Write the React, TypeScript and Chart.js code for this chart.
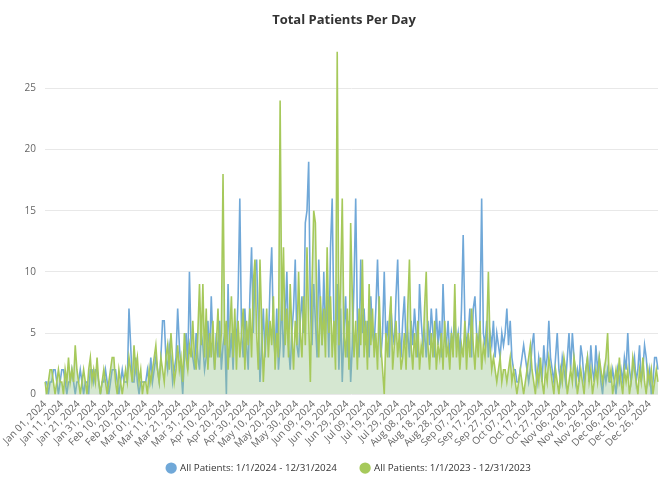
import { useEffect, useRef } from 'react';
import { Chart, registerables } from 'chart.js';

Chart.register(...registerables);

const MONTH_NAMES = ['Jan', 'Feb', 'Mar', 'Apr', 'May', 'Jun', 'Jul', 'Aug', 'Sep', 'Oct', 'Nov', 'Dec'];
const DAY_COUNT = 366;
const categories: string[] = [];
for (let i = 0; i < DAY_COUNT; i++) {
  const d = new Date(2024, 0, 1 + i);
  categories.push(`${MONTH_NAMES[d.getMonth()]} ${String(d.getDate()).padStart(2, '0')}, ${d.getFullYear()}`);
}

const yTickValues = [0, 5, 10, 15, 20, 25];
const yMax = 28;
const labelEvery = 10;

// All Patients: 1/1/2024 - 12/31/2024 (blue), by month
const p2024Jan = [1,1,0,1,1,2,2,1,0,1,2,2,1,0,1,1,2,1,0,1,1,2,1,0,1,1,0,2,2,1,2];
const p2024Feb = [2,1,0,1,1,2,1,0,1,2,2,2,1,0,1,2,1,1,1,7,4,1,1,3,1,0,1,1,1];
const p2024Mar = [1,2,1,3,1,2,3,2,1,3,6,6,3,2,4,3,1,2,3,7,4,2,0,3,5,2,10,4,3,2,5];
const p2024Apr = [3,2,5,4,2,3,6,3,8,4,2,5,3,6,2,4,5,0,9,3,5,2,6,4,8,16,5,3,7,4];
const p2024May = [2,8,12,5,10,11,6,1,4,7,3,6,4,9,12,5,3,7,2,4,8,3,6,10,4,2,5,7,11,4,3];
const p2024Jun = [6,8,5,14,15,19,7,4,9,6,3,11,7,4,10,5,8,3,12,16,6,4,9,2,7,1,5,8,3,6];
const p2024Jul = [1,4,9,16,6,3,11,5,7,4,6,3,8,5,4,7,11,6,3,5,10,4,6,3,7,5,4,8,11,5,3];
const p2024Aug = [6,8,4,5,3,6,4,7,5,3,9,6,4,5,3,6,4,7,5,3,7,4,6,3,9,5,4,6,3,5,4];
const p2024Sep = [6,4,5,3,7,13,6,4,5,7,3,7,8,5,4,6,16,5,4,6,3,5,4,6,3,5,4,3,5,4];
const p2024Oct = [5,7,4,6,3,2,2,1,1,2,3,4,3,2,1,2,4,5,2,1,3,2,1,4,2,3,6,3,2,1,3];
const p2024Nov = [5,2,1,3,2,1,3,5,2,5,3,1,2,1,4,3,1,2,3,1,4,2,1,4,2,3,1,0,2,1];
const p2024Dec = [2,1,1,2,1,0,2,1,2,1,3,2,5,2,1,2,3,1,2,4,1,2,4,3,1,2,0,1,3,3,2];

// All Patients: 1/1/2023 - 12/31/2023 (green), by month
const p2023Jan = [1,0,1,2,2,1,0,1,2,1,1,0,2,1,3,1,2,1,4,2,1,0,1,2,1,0,2,3,1,2,1];
const p2023Feb = [3,1,0,1,2,1,0,1,2,3,3,1,0,2,1,0,1,2,1,3,2,1,4,2,3,1,2,0,1];
const p2023Mar = [1,0,2,1,2,3,4,2,1,3,2,1,3,4,2,5,3,1,2,4,2,3,1,5,3,2,4,3,6,3,2];
const p2023Apr = [5,9,4,9,3,7,2,5,3,6,2,4,7,3,5,18,4,6,2,5,8,3,7,2,6,3,5,7,2,6];
const p2023May = [4,7,3,9,11,5,2,11,6,1,4,7,3,6,4,8,2,5,3,24,6,12,4,7,3,9,5,2,6,4,10];
const p2023Jun = [5,3,8,4,12,6,1,9,15,14,6,3,8,4,7,3,12,5,8,3,6,2,28,4,9,16,5,3,7,2];
const p2023Jul = [14,8,3,6,2,7,4,11,3,6,2,9,4,7,3,5,2,8,4,2,0,5,3,6,8,2,4,6,3,5,2];
const p2023Aug = [3,5,2,7,11,4,2,5,3,6,2,4,3,7,10,4,2,5,3,6,2,4,3,5,2,6,3,4,2,5,3];
const p2023Sep = [9,3,5,2,4,3,6,2,5,3,7,4,2,5,3,6,2,4,3,5,10,4,2,3,2,1,2,3,1,2];
const p2023Oct = [2,1,2,3,1,2,1,0,1,2,1,0,1,2,3,4,2,1,0,2,1,3,1,0,2,1,3,2,1,0,2];
const p2023Nov = [1,0,2,1,3,2,0,1,2,1,3,2,0,1,2,1,0,2,3,1,2,0,1,2,1,3,2,1,2,3];
const p2023Dec = [5,1,2,0,1,2,1,3,1,0,2,1,2,0,1,3,2,1,0,2,1,3,1,0,2,1,2,0,1,2,1];

const series2024 = [
  ...p2024Jan, ...p2024Feb, ...p2024Mar, ...p2024Apr, ...p2024May, ...p2024Jun,
  ...p2024Jul, ...p2024Aug, ...p2024Sep, ...p2024Oct, ...p2024Nov, ...p2024Dec,
];
const series2023 = [
  ...p2023Jan, ...p2023Feb, ...p2023Mar, ...p2023Apr, ...p2023May, ...p2023Jun,
  ...p2023Jul, ...p2023Aug, ...p2023Sep, ...p2023Oct, ...p2023Nov, ...p2023Dec,
];

const label2024 = 'All Patients: 1/1/2024 - 12/31/2024';
const label2023 = 'All Patients: 1/1/2023 - 12/31/2023';

const BLUE = '#70a8d8';
const GREEN = '#a6c95b';
const GREEN_FILL = 'rgba(150, 195, 140, 0.4)';
const FONT = "'Open Sans', 'DejaVu Sans', sans-serif";

// shifts the title and legend horizontally after Chart.js has laid them out
const nudgePlugin = {
  id: 'nudge',
  afterLayout(chart: any) {
    const t = chart.titleBlock;
    if (t) { t.left += 3; t.right += 3; }
    const l = chart.legend;
    if (l) { l.left += 8; l.right += 8; }
  },
};

export default function App() {
  const canvasRef = useRef<HTMLCanvasElement | null>(null);

  useEffect(() => {
    const canvas = canvasRef.current;
    if (!canvas) return;
    const chart = new Chart(canvas, {
      type: 'line',
      data: {
        labels: categories,
        datasets: [
          {
            label: label2024,
            data: series2024,
            borderColor: BLUE,
            backgroundColor: BLUE,
            borderWidth: 1.6,
            pointRadius: 0,
            fill: false,
            tension: 0,
            order: 1,
          },
          {
            label: label2023,
            data: series2023,
            borderColor: GREEN,
            backgroundColor: GREEN_FILL,
            borderWidth: 1.6,
            pointRadius: 0,
            fill: 'origin',
            tension: 0,
            order: 0,
          },
        ],
      },
      plugins: [nudgePlugin],
      options: {
        animation: false,
        responsive: false,
        events: [],
        layout: { padding: { left: 44, right: 50, top: 0, bottom: -3 } },
        plugins: {
          title: {
            display: true,
            text: 'Total Patients Per Day',
            color: '#333',
            font: { family: FONT, size: 13, weight: 'bold' },
            padding: { top: 12, bottom: 24 },
          },
          legend: {
            position: 'bottom',
            labels: {
              usePointStyle: true,
              pointStyle: 'circle',
              boxWidth: 8,
              boxHeight: 8,
              color: '#333',
              font: { family: FONT, size: 9.8 },
              padding: 3,
              sort: (a: any, b: any) => a.datasetIndex - b.datasetIndex,
              generateLabels: (ch: any) => {
                const items = Chart.defaults.plugins.legend.labels.generateLabels(ch);
                return items.map((it: any) => {
                  const ds = ch.data.datasets[it.datasetIndex];
                  return {
                    ...it,
                    text: it.datasetIndex === 0 ? it.text + '\u2002\u2002\u2002\u2002\u2009' : it.text,
                    fillStyle: ds.borderColor,
                    strokeStyle: ds.borderColor,
                    lineWidth: 0,
                  };
                });
              },
            },
          },
          tooltip: { enabled: false },
        },
        scales: {
          x: {
            grid: { display: false, drawTicks: false },
            border: { display: false },
            afterFit: (axis: any) => {
              axis.height = 66;
            },
            ticks: {
              autoSkip: false,
              maxRotation: 45,
              minRotation: 45,
              padding: 4,
              color: '#666',
              font: { family: FONT, size: 10 },
              callback: (_v: any, i: number) => (i % labelEvery === 0 ? categories[i] : null),
            },
          },
          y: {
            min: 0,
            max: yMax,
            grid: { color: '#e8e8e8', drawTicks: false },
            border: { display: false },
            afterBuildTicks: (axis: any) => {
              axis.ticks = yTickValues.map((v) => ({ value: v }));
            },
            afterFit: (axis: any) => {
              axis.width = 21;
            },
            ticks: {
              padding: 9,
              color: '#666',
              font: { family: FONT, size: 10 },
            },
          },
        },
      },
    });
    return () => chart.destroy();
  }, []);

  return (
    <div style={{ position: 'fixed', left: 0, top: 0, width: 664, height: 480, overflow: 'hidden', background: '#fff' }}>
      <canvas ref={canvasRef} width={728} height={480} style={{ position: 'absolute', left: -20, top: 0, width: 728, height: 480 }} />
    </div>
  );
}
